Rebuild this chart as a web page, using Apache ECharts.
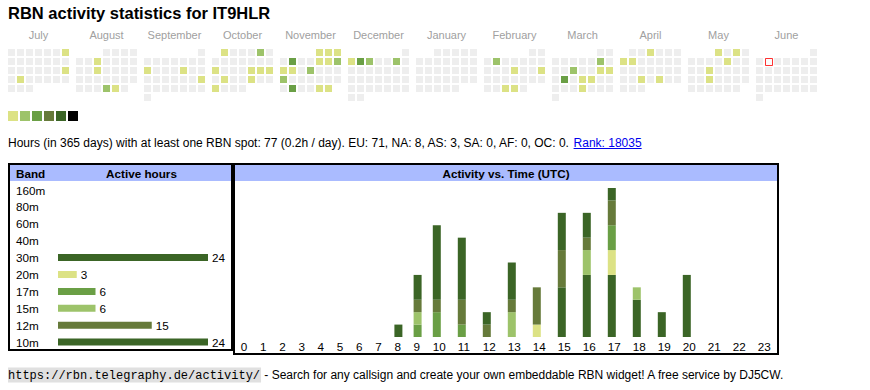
<!DOCTYPE html>
<html><head><meta charset="utf-8">
<script src="https://cdn.jsdelivr.net/npm/echarts@6/dist/echarts.min.js"></script>
<style>html,body{margin:0;padding:0;background:#fff}#c{width:870px;height:390px}</style>
</head><body><div id="c"></div>
<script>
// ---------------- data ----------------
const callsign = 'IT9HLR';
const monthNames = ['July','August','September','October','November','December','January','February','March','April','May','June'];
const monthRanges = ['2024-07','2024-08','2024-09','2024-10','2024-11','2024-12','2025-01','2025-02','2025-03','2025-04','2025-05','2025-06'];
const activeDays = [
  ['2024-07-07',1],['2024-07-21',1],['2024-07-23',1],
  ['2024-08-07',1],['2024-08-14',1],['2024-08-29',2],['2024-08-30',1],
  ['2024-09-09',1],['2024-09-13',1],['2024-09-22',1],
  ['2024-10-01',1],['2024-10-05',2],['2024-10-14',1],['2024-10-18',1],['2024-10-19',1],['2024-10-20',1],['2024-10-22',1],['2024-10-25',1],['2024-10-28',1],
  ['2024-11-01',1],['2024-11-02',1],['2024-11-03',1],['2024-11-05',3],['2024-11-08',1],['2024-11-09',1],['2024-11-10',2],['2024-11-11',1],['2024-11-12',1],['2024-11-14',2],['2024-11-18',2],['2024-11-26',3],['2024-11-29',1],['2024-11-30',1],
  ['2024-12-02',1],['2024-12-03',3],['2024-12-04',2],['2024-12-07',2],
  ['2025-02-04',2],['2025-02-13',1],['2025-02-16',1],['2025-02-26',1],['2025-02-27',1],
  ['2025-03-08',2],['2025-03-12',2],['2025-03-15',1],['2025-03-16',1],['2025-03-18',3],['2025-03-20',1],['2025-03-21',1],['2025-03-27',1],
  ['2025-04-03',1],['2025-04-07',1],['2025-04-08',1],['2025-04-23',1],['2025-04-25',1],
  ['2025-05-01',1],['2025-05-03',1],['2025-05-09',1],['2025-05-14',1],['2025-05-21',1]
];
const today = '2025-06-03';
const levels = [1,2,3,4,5,6];
const levelColors = ['#dce285','#9dc36a','#6a9f45','#667a3a','#3b6526','#000000'];

const bands = ['160m','80m','60m','40m','30m','20m','17m','15m','12m','10m'];
const bandHours = [0,0,0,0,24,3,6,6,15,24];
const bandColors = ['#3b6526','#3b6526','#3b6526','#3b6526','#3b6526','#dce285','#6a9f45','#9dc36a','#667a3a','#3b6526'];

const hourLabels = ['0','1','2','3','4','5','6','7','8','9','10','11','12','13','14','15','16','17','18','19','20','21','22','23'];
const act30m = [0,0,0,0,0,0,0,0,0,0,0,0,0,0,0,4,5,5,3,2,5,0,0,0];
const act20m = [0,0,0,0,0,0,0,0,0,0,0,0,0,0,1,0,0,2,0,0,0,0,0,0];
const act17m = [0,0,0,0,0,0,0,0,0,1,2,1,0,0,0,0,0,2,0,0,0,0,0,0];
const act15m = [0,0,0,0,0,0,0,0,0,1,0,0,0,2,0,0,2,0,1,0,0,0,0,0];
const act12m = [0,0,0,0,0,0,0,0,0,1,1,2,1,1,3,3,1,2,0,0,0,0,0,0];
const act10m = [0,0,0,0,0,0,0,0,1,2,6,5,1,3,0,3,2,1,0,0,0,0,0,0];
const activityBands = ['30m','20m','17m','15m','12m','10m'];
const activityData = [act30m, act20m, act17m, act15m, act12m, act10m];

const totalHours = 77;
const daysSpan = 365;
const continents = ['EU','NA','AS','SA','AF','OC'];
const continentHours = [71,8,3,0,0,0];
const rank = 18035;

// ---------------- layout ----------------
const FONT = '"Liberation Sans", Arial, sans-serif';
const FS = 12;     // body text
const TFS = 11.7;  // table text
const chart = echarts.init(document.getElementById('c'), null, {renderer: 'svg'});

const calendars = monthRanges.map((r, i) => ({
  orient: 'vertical', range: r, left: 7 + 68 * i, top: 48, cellSize: [9, 9],
  splitLine: {show: false},
  itemStyle: {color: '#eeeeee', borderColor: '#ffffff', borderWidth: 2},
  dayLabel: {show: false, firstDay: 1}, monthLabel: {show: false}, yearLabel: {show: false}
}));
const heatSeries = monthRanges.map((r, i) => ({
  type: 'heatmap', coordinateSystem: 'calendar', calendarIndex: i, silent: true,
  data: activeDays.filter(d => d[0].startsWith(r))
}));

// activity table columns (auto-width like an html table: wider for two-digit labels)
const cellBase = 13.4, digitW = 5.8, cellInset = 5.8, barW = 8;
const colStarts = [];
let acc = 0;
hourLabels.forEach(l => { colStarts.push(acc); acc += cellBase + digitW * l.length; });
const barLefts = colStarts.map(s => s + cellInset);
const barCenters = barLefts.map(x => x + barW / 2);

// value first so that the stack is computed on the value (y) dimension
const activitySeries = activityBands.map((b, k) => ({
  type: 'bar', name: b, stack: 'act', xAxisIndex: 1, yAxisIndex: 1, barWidth: barW, silent: true,
  encode: {x: 1, y: 0},
  itemStyle: {color: bandColors[bands.indexOf(b)]},
  data: activityData[k].map((v, h) => [v, barCenters[h]])
}));

const hoursText = `Hours (in ${daysSpan} days) with at least one RBN spot: ${totalHours} (${(totalHours / daysSpan).toFixed(1)}h / day). ` +
  continents.map((c, i) => `${c}: ${continentHours[i]}`).join(', ') + '. ';
const rankText = `Rank: ${rank}`;
const ctx = document.createElement('canvas').getContext('2d');
ctx.font = `${FS}px ${FONT}`;
const hoursW = ctx.measureText(hoursText).width;
const rankW = ctx.measureText(rankText).width;

const graphics = [
  {type: 'text', x: 8, y: 13, style: {text: `RBN activity statistics for ${callsign}`, font: `bold 16.5px ${FONT}`, fill: '#000', verticalAlign: 'middle'}},
  ...monthNames.map((m, i) => ({type: 'text', x: 38.5 + 68 * i, y: 35, style: {text: m, font: `11px ${FONT}`, fill: '#a0a0a0', align: 'center', verticalAlign: 'middle'}})),
  {type: 'text', x: 8, y: 143, style: {text: hoursText, font: `${FS}px ${FONT}`, fill: '#000', verticalAlign: 'middle'}},
  {type: 'text', x: 8 + hoursW, y: 143, style: {text: rankText, font: `${FS}px ${FONT}`, fill: '#0000ee', verticalAlign: 'middle'}},
  {type: 'line', shape: {x1: 8 + hoursW, y1: 148.5, x2: 8 + hoursW + rankW, y2: 148.5}, style: {stroke: '#0000ee', lineWidth: 1}},
  {type: 'rect', shape: {x: 10, y: 165, width: 221, height: 16}, style: {fill: '#aabbff'}},
  {type: 'rect', shape: {x: 235, y: 165, width: 542, height: 16}, style: {fill: '#aabbff'}},
  {type: 'rect', shape: {x: 9, y: 164, width: 223, height: 186}, style: {fill: 'none', stroke: '#000', lineWidth: 2}},
  {type: 'rect', shape: {x: 234, y: 164, width: 544, height: 190}, style: {fill: 'none', stroke: '#000', lineWidth: 2}},
  {type: 'text', x: 16, y: 173, style: {text: 'Band', font: `bold ${TFS}px ${FONT}`, fill: '#000', verticalAlign: 'middle'}},
  {type: 'text', x: 141.5, y: 173, style: {text: 'Active hours', font: `bold ${TFS}px ${FONT}`, fill: '#000', align: 'center', verticalAlign: 'middle'}},
  {type: 'text', x: 506, y: 173, style: {text: 'Activity vs. Time (UTC)', font: `bold ${TFS}px ${FONT}`, fill: '#000', align: 'center', verticalAlign: 'middle'}},
  {type: 'text', x: 8, y: 375, style: {
    text: '{code|https://rbn.telegraphy.de/activity/}{t| - Search for any callsign and create your own embeddable RBN widget! A free service by DJ5CW.}',
    verticalAlign: 'middle',
    rich: {
      code: {fontFamily: '"Liberation Mono", monospace', fontSize: 12, color: '#333', backgroundColor: '#e0e0e0', padding: [2, 1, 1, 0]},
      t: {fontFamily: FONT, fontSize: FS, color: '#000'}
    }
  }}
];

chart.setOption({
  animation: false,
  backgroundColor: '#fff',
  calendar: calendars,
  visualMap: {
    type: 'piecewise', seriesIndex: heatSeries.map((_, i) => i),
    pieces: levels.map((v, i) => ({value: v, color: levelColors[i]})),
    orient: 'horizontal', left: 8, top: 111, padding: 0,
    itemWidth: 10, itemHeight: 10, itemGap: 2, itemSymbol: 'rect',
    showLabel: false, selectedMode: false, hoverLink: false
  },
  grid: [
    {left: 58, top: 181.55, width: 150, height: 169, containLabel: false, outerBoundsMode: 'none'},
    {left: 235, top: 188, width: 542, height: 149, containLabel: false, outerBoundsMode: 'none'}
  ],
  xAxis: [
    {type: 'value', gridIndex: 0, min: 0, max: 24, show: false},
    {type: 'value', gridIndex: 1, min: 0, max: acc,
     axisLine: {show: false}, axisTick: {show: false}, splitLine: {show: false},
     axisLabel: {customValues: barLefts, align: 'left', margin: 3, fontSize: TFS, fontFamily: FONT, color: '#000',
       formatter: v => { const i = barLefts.findIndex(x => Math.abs(x - v) < 0.01); return i >= 0 ? hourLabels[i] : ''; }}}
  ],
  yAxis: [
    {type: 'category', gridIndex: 0, data: bands, inverse: true,
     axisLine: {show: false}, axisTick: {show: false}, splitLine: {show: false},
     axisLabel: {align: 'left', margin: 42, fontSize: TFS, fontFamily: FONT, color: '#000'}},
    {type: 'value', gridIndex: 1, min: 0, max: 12, show: false}
  ],
  series: [
    ...heatSeries,
    {type: 'scatter', coordinateSystem: 'calendar', calendarIndex: 11, silent: true,
     symbol: 'rect', symbolSize: 7, symbolOffset: [0.5, 0.5],
     itemStyle: {color: '#fff', borderColor: '#ff0000', borderWidth: 1},
     data: [[today, 1]]},
    {type: 'bar', xAxisIndex: 0, yAxisIndex: 0, barWidth: 7, silent: true,
     label: {show: true, position: 'right', distance: 4, fontSize: TFS, fontFamily: FONT, color: '#000'},
     data: bandHours.map((v, i) => ({value: v, itemStyle: {color: bandColors[i]}, label: {show: v > 0}}))},
    ...activitySeries
  ],
  graphic: graphics
});
</script></body></html>
